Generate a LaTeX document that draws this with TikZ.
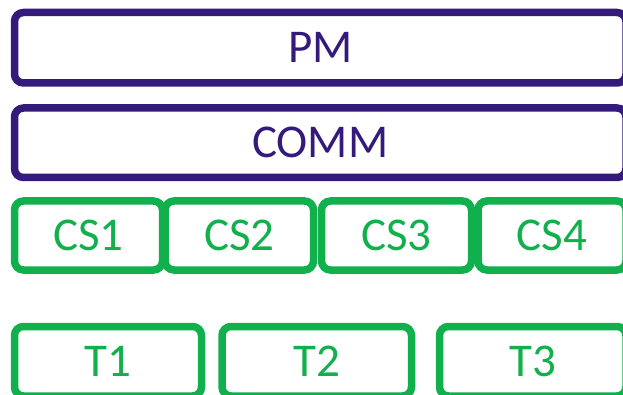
\documentclass[tikz,border=0pt]{standalone}
\usepackage{fontspec}
\setmainfont{Carlito}
\definecolor{pmpurple}{RGB}{52,26,122}
\definecolor{csgreen}{RGB}{16,176,76}
\tikzset{
  box/.style={draw, rounded corners=9pt, line width=7.5pt, inner sep=0pt, font=\fontsize{47}{47}\selectfont, fill=white},
  pbox/.style={box, draw=pmpurple, text=pmpurple},
  gbox/.style={box, draw=csgreen, text=csgreen}
}
\newcommand{\bx}[6]{% style, name, left, top, right, bottom, text
  \node[#1, minimum width={#5-#3}, minimum height={#6-#4}] (#2) at ({(#3+#5)/2},{(#4+#6)/2}) }
\begin{document}
\begin{tikzpicture}[x=1pt,y=-1pt]
\useasboundingbox[clip] (0,0) rectangle (623,395);
\bx{pbox}{pm}{14.5}{12.5}{626}{83}{PM};
\bx{pbox}{comm}{14.5}{108}{626}{177.5}{COMM};
\bx{gbox}{cs1}{14.5}{201}{162.5}{270}{CS1};
\bx{gbox}{cs2}{165}{201}{313.5}{270}{CS2};
\bx{gbox}{cs3}{321.5}{201}{471.5}{270}{CS3};
\bx{gbox}{cs4}{478}{201}{626}{270}{CS4};
\bx{gbox}{t1}{14.5}{326.5}{201.5}{396}{T1};
\bx{gbox}{t2}{222}{326.5}{411.5}{396}{T2};
\bx{gbox}{t3}{439.5}{326.5}{626}{396}{T3};
\end{tikzpicture}
\end{document}
